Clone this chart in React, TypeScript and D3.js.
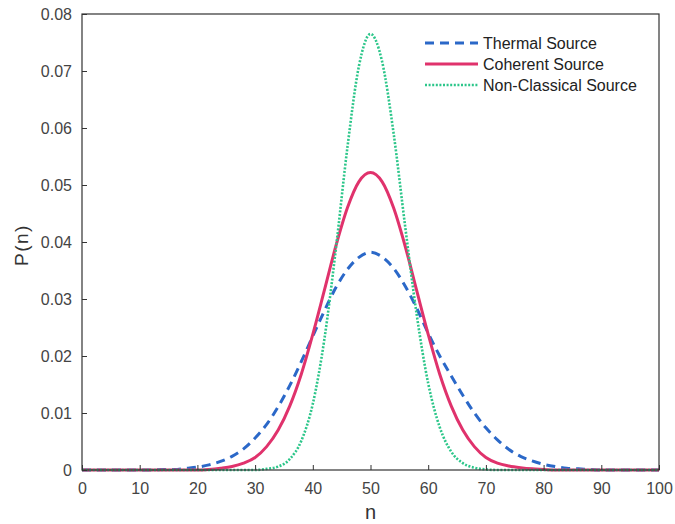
import React, { useEffect, useRef } from 'react';
import * as d3 from 'd3';

// photon number n, every 2 from 0 to 100
const nValues = d3.range(0, 101, 2);

const thermal = [
  0, 0, 0, 0, 0, 0, 0,
  0.0001, 0.0001, 0.0003, 0.0005, 0.0009, 0.0015, 0.0024, 0.0037, 0.0056, 0.0080,
  0.0111, 0.0148, 0.0190, 0.0235, 0.0279, 0.0320, 0.0352, 0.0373, 0.0382, 0.0374,
  0.0354, 0.0323, 0.0284, 0.0240, 0.0200, 0.0165, 0.0131, 0.0100, 0.0074, 0.0053,
  0.0036, 0.0024, 0.0016, 0.0010, 0.0006, 0.0003, 0.0002, 0.0001,
  0, 0, 0, 0, 0, 0,
];

const coherent = [
  0, 0, 0, 0, 0, 0, 0, 0, 0, 0, 0,
  0.0001, 0.0003, 0.0006, 0.0012, 0.0022, 0.0041, 0.0070, 0.0112, 0.0168, 0.0238,
  0.0315, 0.0393, 0.0460, 0.0506, 0.0522, 0.0506, 0.0460, 0.0393, 0.0315, 0.0238,
  0.0168, 0.0112, 0.0070, 0.0041, 0.0022, 0.0012, 0.0007, 0.0004, 0.0002, 0.0001,
  0, 0, 0, 0, 0, 0, 0, 0, 0, 0,
];

const nonClassical = [
  0, 0, 0, 0, 0, 0, 0, 0, 0, 0, 0, 0, 0, 0, 0, 0,
  0.0002, 0.0006, 0.0019, 0.0051, 0.0116, 0.0229, 0.0388, 0.0566, 0.0709, 0.0765,
  0.0717, 0.0591, 0.0428, 0.0273, 0.0152, 0.0075, 0.0032, 0.0012, 0.0004, 0.0001,
  0, 0, 0, 0, 0, 0, 0, 0, 0, 0, 0, 0, 0, 0, 0,
];

const seriesNames = ['Thermal Source', 'Coherent Source', 'Non-Classical Source'];
const xTicks = d3.range(0, 101, 10);
const yTicks = d3.range(0, 0.081, 0.01);

const styles = [
  { color: '#2b68c8', dash: '9,6', width: 3 },
  { color: '#e0326c', dash: null, width: 3 },
  { color: '#2cc68a', dash: '2,1.6', width: 2.6 },
];

export default function App() {
  const ref = useRef<SVGSVGElement>(null);

  useEffect(() => {
    const width = 675, height = 524;
    const margin = { left: 82, right: 16, top: 14, bottom: 54 };
    const svg = d3.select(ref.current);
    svg.selectAll('*').remove();

    const x = d3.scaleLinear().domain([0, 100]).range([margin.left, width - margin.right]);
    const y = d3.scaleLinear().domain([0, 0.08]).range([height - margin.bottom, margin.top]);
    const font = 'Liberation Sans, Arial, sans-serif';

    // curves
    const line = d3.line<number>()
      .x((d, i) => x(nValues[i]))
      .y(d => y(d))
      .curve(d3.curveMonotoneX);

    const allSeries = [thermal, coherent, nonClassical];
    allSeries.forEach((s, i) => {
      svg.append('path')
        .attr('d', line(s))
        .attr('fill', 'none')
        .attr('stroke', styles[i].color)
        .attr('stroke-width', styles[i].width)
        .attr('stroke-dasharray', styles[i].dash)
        .attr('stroke-linejoin', 'round');
    });

    // axes with inward ticks
    const xAxis = svg.append('g')
      .attr('transform', `translate(0,${y(0)})`)
      .call(d3.axisBottom(x).tickValues(xTicks).tickSizeInner(-5).tickSizeOuter(0).tickPadding(13));
    const yAxis = svg.append('g')
      .attr('transform', `translate(${x(0)},0)`)
      .call(d3.axisLeft(y).tickValues(yTicks).tickSizeInner(-5).tickSizeOuter(0).tickPadding(10)
        .tickFormat(d => (+d === 0 ? '0' : d3.format('.2f')(+d))));

    [xAxis, yAxis].forEach(g => {
      g.select('.domain').remove();
      g.selectAll('line').attr('stroke', '#333');
      g.selectAll('text').attr('fill', '#444').style('font-size', '16px').style('font-family', font);
    });

    // box
    svg.append('rect')
      .attr('x', x(0)).attr('y', y(0.08))
      .attr('width', x(100) - x(0)).attr('height', y(0) - y(0.08))
      .attr('fill', 'none').attr('stroke', '#333').attr('stroke-width', 1.2);

    // axis labels
    svg.append('text')
      .attr('x', (x(0) + x(100)) / 2).attr('y', 519)
      .attr('text-anchor', 'middle').attr('fill', '#333')
      .style('font-size', '20px').style('font-family', font)
      .text('n');
    svg.append('text')
      .attr('transform', `translate(28,${(y(0) + y(0.08)) / 2 + 3}) rotate(-90)`)
      .attr('text-anchor', 'middle').attr('fill', '#333')
      .style('font-size', '19px').style('font-family', font)
      .style('letter-spacing', '1.5px')
      .text('P(n)');

    // legend
    const legend = svg.append('g').attr('transform', 'translate(425,43)');
    seriesNames.forEach((name, i) => {
      const row = legend.append('g').attr('transform', `translate(0,${i * 21})`);
      row.append('line')
        .attr('x1', 0).attr('x2', 53).attr('y1', 0).attr('y2', 0)
        .attr('stroke', styles[i].color)
        .attr('stroke-width', styles[i].width)
        .attr('stroke-dasharray', styles[i].dash);
      row.append('text')
        .attr('x', 58).attr('y', 5.5)
        .attr('fill', '#222')
        .style('font-size', '16px').style('font-family', font)
        .text(name);
    });
  }, []);

  return (
    <svg ref={ref} width={675} height={524}
      style={{ position: 'absolute', left: 0, top: 0, background: '#fff' }} />
  );
}
